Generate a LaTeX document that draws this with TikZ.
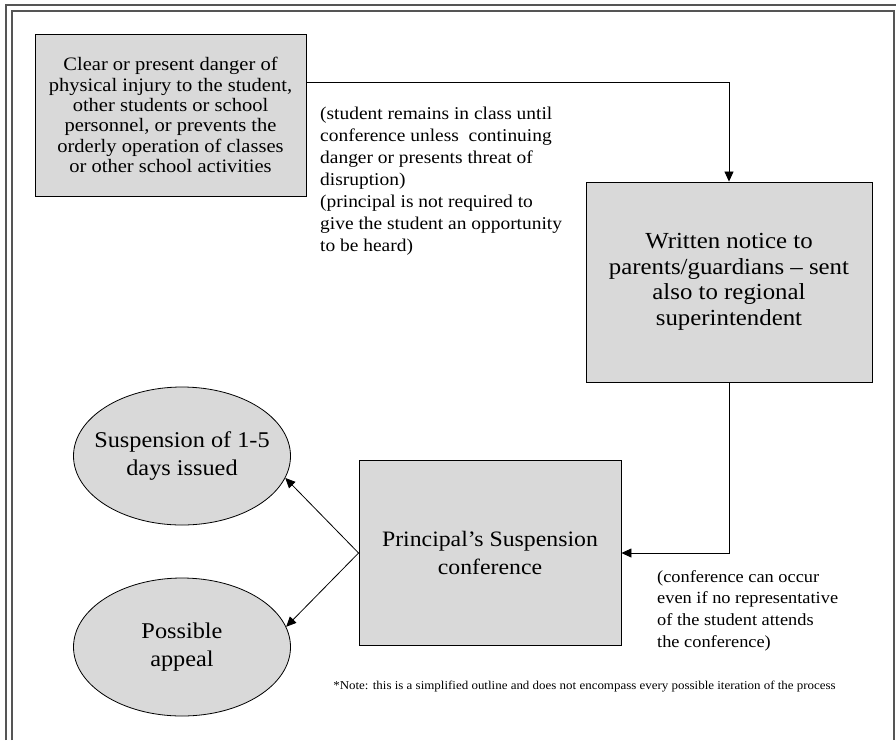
\documentclass[tikz,border=0pt]{standalone}
\usepackage{fontspec}
\setmainfont{Liberation Serif}[FakeStretch=1.08]
\usepackage{xcolor}
\definecolor{boxgray}{HTML}{D9D9D9}
\definecolor{framegray}{HTML}{555555}
\usepackage{tikz}
\usetikzlibrary{shapes.geometric,arrows.meta,positioning}

\begin{document}
\begin{tikzpicture}[x=1pt, y=-1pt,
    stepbox/.style={draw=black, fill=boxgray, line width=0.9pt, align=center, inner sep=0pt},
    oval/.style={draw=black, fill=boxgray, ellipse, line width=0.8pt, align=center,
      inner xsep=-14pt, inner ysep=0pt,
      minimum width=217pt, minimum height=138pt, font=\fontsize{22.5}{28}\selectfont},
    remark/.style={align=left, anchor=north west, inner sep=0pt},
    link/.style={draw=black, line width=0.8pt, -{Triangle[length=10pt,width=9pt]}}]
    \useasboundingbox (0,0) rectangle (896,740);
    % Page frame
    \draw[framegray, line width=1.2pt] (6,740) -- (6,5) -- (896,5);
    \draw[framegray, line width=1.2pt] (12,740) -- (12,11) -- (894,11) -- (894,740);
    % Boxes
    \node[stepbox, minimum width=271pt, minimum height=162pt,
      font=\fontsize{19}{20.3}\selectfont] (danger) at (170.5,115)
      {Clear or present danger of\\physical injury to the student,\\other students or school\\personnel, or prevents the\\orderly operation of classes\\or other school activities};
    \node[stepbox, minimum width=286pt, minimum height=200pt,
      font=\fontsize{23}{25.5}\selectfont] (notice) at (729,282)
      {Written notice to\\parents/guardians -- sent\\also to regional\\superintendent};
    \node[stepbox, minimum width=262pt, minimum height=185pt,
      font=\fontsize{22}{28}\selectfont] (conf) at (490,553)
      {Principal's Suspension\\conference};
    % Outcomes
    \node[oval] (issued) at (182,456) {Suspension of 1-5\\days issued};
    \node[oval] (appeal) at (182,647) {Possible\\appeal};
    % Remarks
    \node[remark, font=\fontsize{18}{21.9}\selectfont] (remain) at (320,107)
      {(student remains in class until\\conference unless\ \ continuing\\danger or presents threat of\\disruption)\\(principal is not required to\\give the student an opportunity\\to be heard)};
    \node[remark, font=\fontsize{17}{21.7}\selectfont] (attend) at (657,570)
      {(conference can occur\\even if no representative\\of the student attends\\the conference)};
    \node[font=\fontsize{12}{14}\selectfont] (note) at (584.5,687)
      {*Note: this is a simplified outline and does not encompass every possible iteration of the process};
    % Arrows
    \draw[link] ([yshift=33pt]danger.east) -| (notice.north);
    \draw[link] (notice.south) |- (conf.east);
    \draw[link] (conf.west) -- (issued.-12);
    \draw[link] (conf.west) -- (appeal.11);
\end{tikzpicture}
\end{document}
